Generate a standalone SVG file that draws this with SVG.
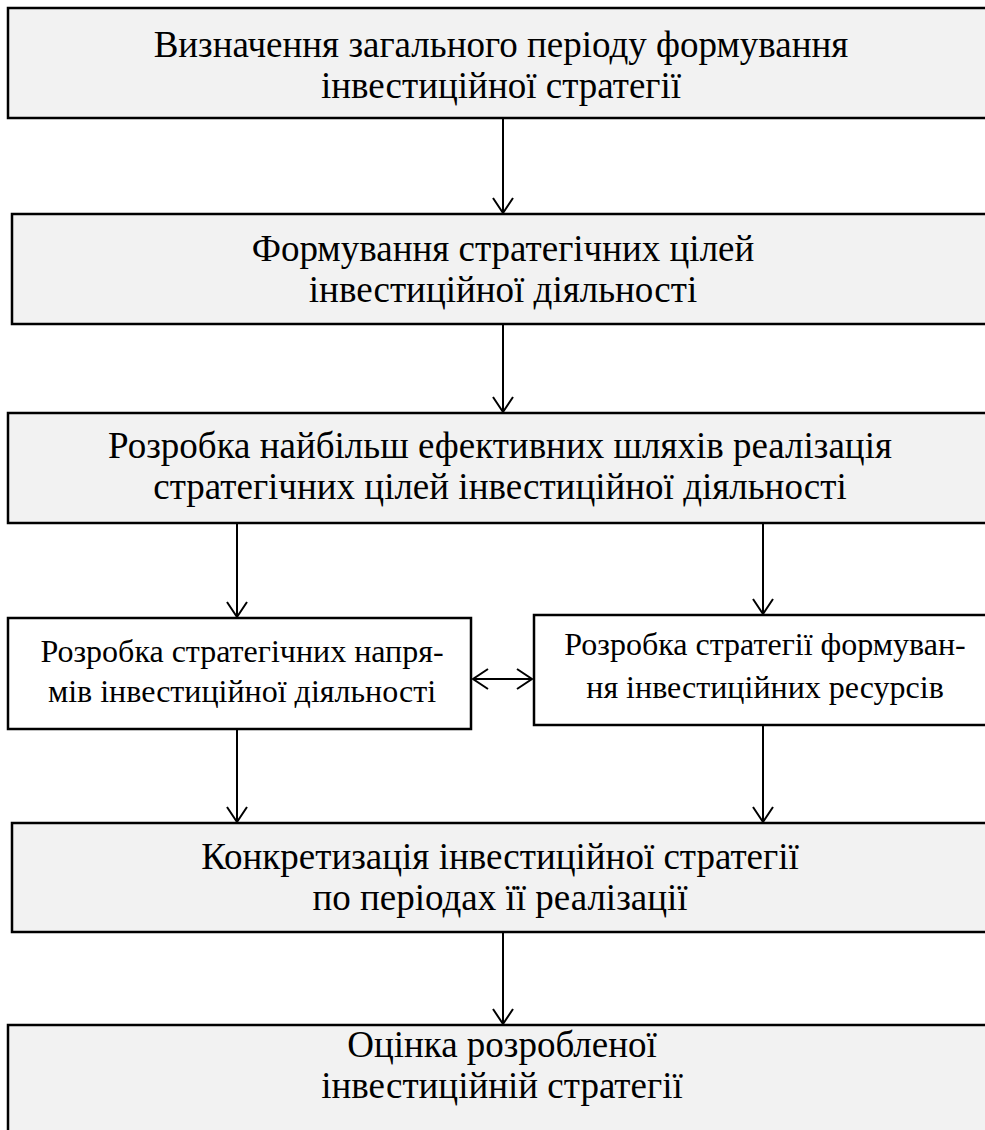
<svg xmlns="http://www.w3.org/2000/svg" width="985" height="1130" viewBox="0 0 985 1130">
<defs>
<marker id="ah" markerUnits="userSpaceOnUse" viewBox="0 0 20 24" refX="17" refY="12" markerWidth="20" markerHeight="24" orient="auto-start-reverse">
<path d="M2,2 L17,12 L2,22" fill="none" stroke="#000" stroke-width="2"/>
</marker>
</defs>
<style>
.box{fill:#f2f2f2;stroke:#000;stroke-width:2.5}
.wbox{fill:#fff;stroke:#000;stroke-width:2.5}
text{fill:#000;text-anchor:middle}
.t{font-size:37px}
.s{font-size:32px}
.c{stroke:#000;stroke-width:2;fill:none;marker-end:url(#ah)}
</style>
<rect width="985" height="1130" fill="#fff"/>
<g font-family="'Liberation Serif', 'DejaVu Serif', serif">
<g id="n1">
<rect class="box" x="8" y="8" width="990" height="110"/>
<text class="t" x="501" y="57">Визначення загального періоду формування</text>
<text class="t" x="501" y="98">інвестиційної стратегії</text>
</g>
<g id="n2">
<rect class="box" x="12" y="214" width="990" height="110"/>
<text class="t" x="503" y="261">Формування стратегічних цілей</text>
<text class="t" x="503" y="302">інвестиційної діяльності</text>
</g>
<g id="n3">
<rect class="box" x="8" y="413" width="990" height="110"/>
<text class="t" x="500" y="458">Розробка найбільш ефективних шляхів реалізація</text>
<text class="t" x="500" y="499">стратегічних цілей інвестиційної діяльності</text>
</g>
<g id="n4">
<rect class="wbox" x="8" y="618" width="463" height="111"/>
<text class="s" x="242" y="662">Розробка стратегічних напря-</text>
<text class="s" x="242" y="702">мів інвестиційної діяльності</text>
</g>
<g id="n5">
<rect class="wbox" x="534" y="615" width="470" height="110"/>
<text class="s" x="765" y="655">Розробка стратегії формуван-</text>
<text class="s" x="765" y="698">ня інвестиційних ресурсів</text>
</g>
<g id="n6">
<rect class="box" x="12" y="823" width="990" height="109"/>
<text class="t" x="500" y="869">Конкретизація інвестиційної стратегії</text>
<text class="t" x="500" y="910">по періодах її реалізації</text>
</g>
<g id="n7">
<rect class="box" x="8" y="1025" width="990" height="120"/>
<text class="t" x="502" y="1057">Оцінка розробленої</text>
<text class="t" x="502" y="1098">інвестиційній стратегії</text>
</g>
</g>
<g id="connectors">
<line class="c" x1="503" y1="119" x2="503" y2="213"/>
<line class="c" x1="503" y1="325" x2="503" y2="412"/>
<line class="c" x1="237" y1="524" x2="237" y2="617"/>
<line class="c" x1="763" y1="524" x2="763" y2="614"/>
<line class="c" x1="473" y1="679" x2="532" y2="679" style="marker-start:url(#ah)"/>
<line class="c" x1="237" y1="730" x2="237" y2="822"/>
<line class="c" x1="763" y1="726" x2="763" y2="822"/>
<line class="c" x1="503" y1="933" x2="503" y2="1024"/>
</g>
</svg>
